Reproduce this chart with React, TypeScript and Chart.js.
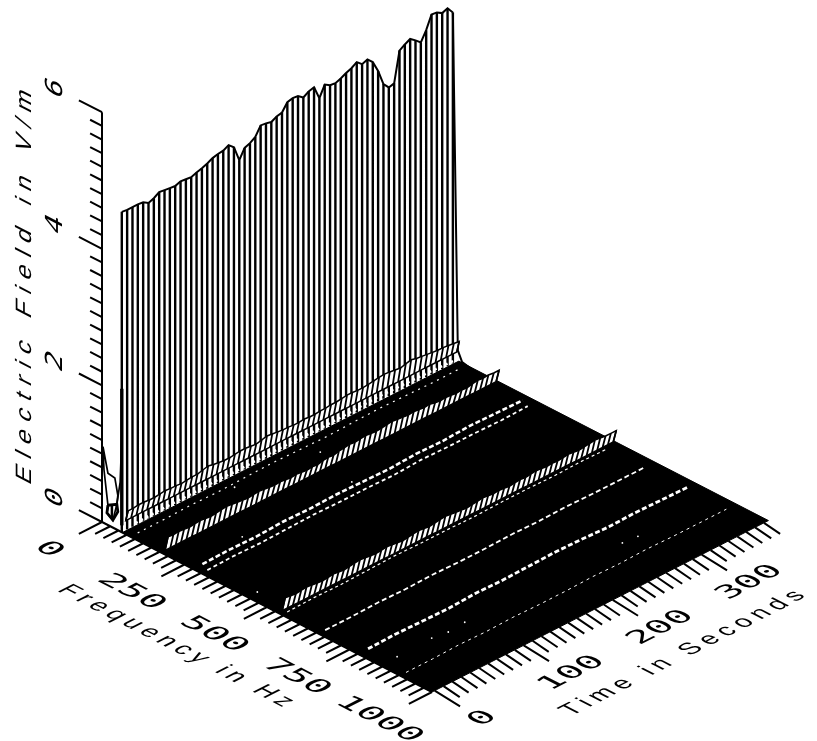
import React, { useEffect, useRef } from "react";
import { Chart, registerables } from "chart.js";

Chart.register(...registerables);

// ---------- data ----------
const freqMajorTicks = [0, 250, 500, 750, 1000];
const timeMajorTicks = [0, 100, 200, 300];
const fieldMajorTicks = [0, 2, 4, 6];
const freqMax = 1000;
const freqFloorStart = 62;
const timeMax = 378;
const fieldMax = 6;
const sliceStep = 6;

const spikeFreq = 60;
const spikeField = [
  4.69, 4.68, 4.68, 4.68, 4.67, 4.62, 4.65, 4.7, 4.69, 4.68, 4.67, 4.7, 4.69, 4.68, 4.71, 4.73,
  4.76, 4.8, 4.82, 4.83, 4.87, 4.8, 4.57, 4.71, 4.74, 4.79, 4.92, 4.91, 4.89, 4.93, 4.95, 5.06,
  5.08, 5.07, 5.01, 5.06, 5.08, 4.88, 5.04, 4.99, 4.98, 5.01, 5.05, 5.08, 5.13, 5.06, 5.09, 5.01,
  4.84, 4.61, 4.52, 4.54, 4.98, 5.03, 5.07, 5.01, 4.94, 5.08, 5.27, 5.26, 5.21, 5.24, 5.14,
];

const bandATop = [
  0.36, 0.36, 0.37, 0.37, 0.36, 0.36, 0.37, 0.38, 0.37, 0.37, 0.36, 0.37, 0.38, 0.38, 0.4, 0.42,
  0.4, 0.39, 0.38, 0.38, 0.39, 0.4, 0.4, 0.39, 0.38, 0.4, 0.42, 0.41, 0.4, 0.39, 0.39, 0.38, 0.38,
  0.39, 0.38, 0.38, 0.39, 0.39, 0.4, 0.4, 0.41, 0.42, 0.42, 0.41, 0.41, 0.42, 0.43, 0.44, 0.45,
  0.44, 0.43, 0.42, 0.44, 0.46, 0.44, 0.43, 0.42, 0.41, 0.4, 0.4, 0.39, 0.38, 0.37,
];
const bandBTop = [
  0.28, 0.27, 0.28, 0.27, 0.26, 0.27, 0.28, 0.27, 0.26, 0.27, 0.28, 0.29, 0.28, 0.27, 0.26, 0.25,
  0.26, 0.27, 0.26, 0.25, 0.24, 0.25, 0.24, 0.23, 0.24, 0.23, 0.22, 0.23, 0.22, 0.24, 0.25, 0.24,
  0.26, 0.27, 0.28, 0.27, 0.28, 0.29, 0.28, 0.27, 0.28, 0.29, 0.3, 0.29, 0.28, 0.27, 0.28, 0.27,
  0.26, 0.27, 0.25, 0.24, 0.25, 0.24, 0.23, 0.24, 0.23, 0.25, 0.26, 0.25, 0.26, 0.25, 0.25,
];
const bandDTop = [
  0.27, 0.26, 0.25, 0.26, 0.27, 0.26, 0.25, 0.24, 0.25, 0.26, 0.25, 0.24, 0.25, 0.26, 0.27, 0.26,
  0.25, 0.24, 0.25, 0.26, 0.25, 0.24, 0.23, 0.24, 0.25, 0.26, 0.25, 0.24, 0.25, 0.26, 0.27, 0.26,
  0.25, 0.24, 0.23, 0.24, 0.25, 0.26, 0.25, 0.24, 0.25, 0.24, 0.23, 0.24, 0.25, 0.24, 0.25, 0.26,
  0.25, 0.24, 0.25, 0.24, 0.25, 0.26, 0.25, 0.24, 0.25, 0.26, 0.27, 0.26, 0.25, 0.25, 0.25,
];
const bandAFreq = [72, 79];
const bandBFreq = [191, 200];
const bandDFreq = [546, 555];
const bandABase = 0.2;
const bandBBase = 0.06;
const bandDBase = 0.06;

const knotTimes = [6, 36, 66, 96, 126, 156, 186, 216, 246, 276, 306, 336, 366];
const rowA2 = [0.15, 0.16, 0.16, 0.17, 0.16, 0.17, 0.17, 0.16, 0.17, 0.19, 0.18, 0.17, 0.15];
const rowA3 = [0.03, 0.03, 0.04, 0.03, 0.04, 0.05, 0.04, 0.03, 0.04, 0.05, 0.04, 0.03, 0.03];
const rowC = [0.06, 0.07, 0.06, 0.08, 0.07, 0.08, 0.07, 0.06, 0.08, 0.07, 0.09, 0.08, 0.07];
const rowC2 = [0.01, 0.02, 0.01, 0.02, 0.03, 0.02, 0.02, 0.01, 0.03, 0.02, 0.02, 0.01, 0.02];
const rowD2 = [0.0, 0.01, 0.0, 0.01, 0.02, 0.01, 0.01, 0.0, 0.01, 0.01, 0.0, 0.01, 0.0];
const rowE = [0.02, 0.02, 0.03, 0.02, 0.03, 0.02, 0.02, 0.03, 0.02, 0.03, 0.02, 0.02, 0.02];
const rowF = [0.07, 0.08, 0.07, 0.06, 0.08, 0.07, 0.08, 0.09, 0.08, 0.06, 0.07, 0.06, 0.05];
const rowG = [0.01, 0.01, 0.02, 0.01, 0.02, 0.01, 0.01, 0.02, 0.01, 0.02, 0.01, 0.01, 0.01];
const rowFreqs = { a2: 84, a3: 92, c: 288, c2: 303, d2: 545, e: 660, f: 790, g: 905 };

const speckFreq = [97, 122, 255, 258, 441, 843, 840, 847, 843, 846, 850];
const speckTime = [113, 200, 63, 185, 11, 19, 59, 75, 95, 271, 287];

const humpFreq = [3, 18, 39, 48, 45, 33, 15, 18, 6, 3];
const humpField = [1.11, 0.76, 0.74, 0.51, 0.37, 0.11, 0.17, 0.29, 0.78, 1.11];
const humpCellFreq = [18, 45, 48, 33, 15, 18];
const humpCellField = [0.29, 0.37, 0.27, 0.11, 0.17, 0.29];
const humpRiseFreq = [45, 55, 60];
const humpRiseField = [0.37, 0.72, 1.4];
const lastSliceFreq = [60, 75, 88, 133];
const lastSliceField = [5.14, 0.23, 0.09, 0.04];

const fieldTitle = "Electric Field in V/m";
const freqTitle = "Frequency in Hz";
const timeTitle = "Time in Seconds";

// ---------- axonometric projection of (frequency, time, field) ----------
const project = (f: number, t: number, z: number) => ({
  x: 102 + 0.33 * f + 0.89 * t,
  y: 522 + 0.17 * f - 0.4535 * t - 68.3 * z,
});
const GAP = { x: NaN, y: NaN };
const slices = spikeField.map((_, i) => i * sliceStep);

type P = { x: number; y: number };
const mk = (data: P[], color: string, width: number, extra: Record<string, unknown> = {}) => ({
  data,
  borderColor: color,
  borderWidth: width,
  pointRadius: 0,
  showLine: true,
  tension: 0,
  fill: false,
  spanGaps: false,
  clip: false,
  ...extra,
});

const segments = (pairs: [P, P][]) => pairs.flatMap(([a, b]) => [a, b, GAP]);

function band(top: number[], [fb, ft]: number[], base: number) {
  const upper = top.map((z, i) => project(ft, slices[i], z));
  const lower = top.map((_, i) => project(fb, slices[i], base));
  return [
    mk([...upper, ...lower.slice().reverse(), upper[0]], "#000", 1.5, {
      fill: "shape",
      backgroundColor: "#fff",
    }),
    mk(segments(top.map((_, i) => [lower[i], upper[i]] as [P, P])), "#000", 1.8),
  ];
}
const row = (f: number, z: number[], color: string, width: number, dash: number[]) =>
  mk(z.map((v, i) => project(f, knotTimes[i], v)), color, width, { borderDash: dash });

function range(from: number, to: number, step: number) {
  const out: number[] = [];
  for (let v = from; v <= to + 1e-6; v += step) out.push(+v.toFixed(3));
  return out;
}

function buildDatasets() {
  const surface = mk(
    [
      project(freqFloorStart, 0, 0),
      project(freqMax, 0, 0),
      project(freqMax, timeMax, 0),
      project(freqFloorStart, timeMax, 0),
      project(freqFloorStart, 0, 0),
    ],
    "#000",
    1,
    { fill: "shape", backgroundColor: "#000" }
  );
  const spikes = mk(
    segments(
      spikeField.map((z, i) => [project(spikeFreq, slices[i], 0), project(spikeFreq, slices[i], z)] as [P, P])
    ),
    "#000",
    2.4,
    { borderCapStyle: "butt" }
  );
  const ridge = mk(spikeField.map((z, i) => project(spikeFreq, slices[i], z)), "#000", 2);
  const thickFirst = mk([project(spikeFreq, 0, 0.1), project(spikeFreq, 0, 2.1)], "#000", 3.4);
  const hump = mk(humpFreq.map((f, i) => project(f, 0, humpField[i])), "#000", 1.7);
  const humpCell = mk(humpCellFreq.map((f, i) => project(f, 0, humpCellField[i])), "#000", 2.8);
  const humpCross = mk(segments([[project(30, 0, 0.32), project(30, 0, 0.12)]]), "#000", 2.5);
  const humpRise = mk(humpRiseFreq.map((f, i) => project(f, 0, humpRiseField[i])), "#000", 1.7);
  const lastSlice = mk(lastSliceFreq.map((f, i) => project(f, 372, lastSliceField[i])), "#000", 2);
  const specks = {
    data: speckFreq.map((f, i) => project(f, speckTime[i], 0)),
    pointRadius: 0.9,
    pointBorderWidth: 0,
    pointBackgroundColor: "#fff",
    showLine: false,
    clip: false,
  };

  const zMinor = range(0, fieldMax, 0.2);
  const fMinor = range(0, freqMax, 25);
  const tMinor = range(0, 370, 10);
  const tickWidth = 2;
  const zAxis = mk(
    [
      project(0, 0, 0),
      project(0, 0, fieldMax),
      GAP,
      ...segments(
        zMinor.map((z) => [project(0, 0, z), project(fieldMajorTicks.includes(z) ? -70 : -36, 0, z)] as [P, P])
      ),
    ],
    "#000",
    tickWidth
  );
  const fAxis = mk(
    [
      project(0, 0, 0),
      project(freqMax, 0, 0),
      GAP,
      ...segments(
        fMinor.map((f) => [project(f, 0, 0), project(f, freqMajorTicks.includes(f) ? -26 : -17, 0)] as [P, P])
      ),
    ],
    "#000",
    tickWidth
  );
  const tAxis = mk(
    segments(
      tMinor.map((t) => [project(1000, t + 3, 0), project(timeMajorTicks.includes(t) ? 1085 : 1057, t, 0)] as [P, P])
    ),
    "#000",
    tickWidth
  );

  const list = [
    surface,
    hump,
    humpCell,
    humpCross,
    humpRise,
    spikes,
    thickFirst,
    ridge,
    lastSlice,
    ...band(bandATop, bandAFreq, bandABase),
    row(rowFreqs.a2, rowA2, "#fff", 2.6, [3, 3]),
    row(rowFreqs.a3, rowA3, "#fff", 1.2, [2, 5]),
    ...band(bandBTop, bandBFreq, bandBBase),
    row(rowFreqs.c, rowC, "#fff", 2.6, [5, 2.5]),
    row(rowFreqs.c2, rowC2, "#fff", 1.8, [4, 3]),
    ...band(bandDTop, bandDFreq, bandDBase),
    row(rowFreqs.d2, rowD2, "#fff", 1.2, [3, 3]),
    row(rowFreqs.e, rowE, "#fff", 1.8, [5, 3]),
    row(rowFreqs.f, rowF, "#fff", 2.8, [5, 2.5]),
    row(rowFreqs.g, rowG, "#fff", 1, [3, 4]),
    specks,
    zAxis,
    fAxis,
    tAxis,
  ];
  // later entries are painted on top
  return list.map((d, i) => ({ ...d, order: list.length - i }));
}

// ---------- sheared labels lying in the plot's planes ----------
const FD = { x: 0.889, y: 0.458 };
const TD = { x: 0.89, y: -0.4535 };
const UP = { x: 0, y: -1 };

function drawText(
  ctx: CanvasRenderingContext2D,
  text: string,
  c: P,
  along: P,
  down: P,
  font: string,
  stretch: number,
  downScale: number,
  length?: number
) {
  ctx.save();
  ctx.font = font;
  ctx.fillStyle = "#000";
  ctx.textAlign = "center";
  ctx.textBaseline = "middle";
  if (length) {
    const w = ctx.measureText(text).width;
    (ctx as any).letterSpacing = `${(length - w) / text.length}px`;
  }
  ctx.transform(along.x * stretch, along.y * stretch, down.x * downScale, down.y * downScale, c.x, c.y);
  ctx.fillText(text, 0, 0);
  ctx.restore();
}

const labelPlugin = {
  id: "planeLabels",
  afterDatasetsDraw(chart: Chart) {
    const ctx = chart.ctx;
    const tick = '22px "DejaVu Sans Mono"';
    const title = '25px "Liberation Sans"';
    const minusT = { x: -TD.x, y: -TD.y };
    fieldMajorTicks.forEach((z) =>
      drawText(ctx, String(z), project(-140, 0, z), UP, FD, tick, 1.3, 1.2)
    );
    freqMajorTicks.forEach((f) =>
      drawText(ctx, String(f), project(f, -60, 0), FD, minusT, tick, 1.65, 1.25)
    );
    timeMajorTicks.forEach((t) =>
      drawText(ctx, String(t), project(1155, t, 0), TD, FD, tick, 1.6, 1.25)
    );
    drawText(ctx, fieldTitle, project(-233, 0, 2.93), UP, FD, title, 1, 1, 401);
    drawText(ctx, freqTitle, project(484, -94, 0), FD, minusT, title, 1, 1, 260);
    drawText(ctx, timeTitle, project(1263, 187, 0), TD, FD, title, 1, 1, 270);
  },
};

export default function App() {
  const ref = useRef<HTMLCanvasElement>(null);
  useEffect(() => {
    document.body.style.margin = "0";
    document.body.style.background = "#fff";
    const chart = new Chart(ref.current!, {
      type: "scatter",
      data: { datasets: buildDatasets() as any },
      options: {
        animation: false,
        responsive: false,
        events: [],
        layout: { padding: 0, autoPadding: false },
        plugins: { legend: { display: false }, tooltip: { enabled: false }, title: { display: false } },
        scales: {
          x: { type: "linear", min: 0, max: 817, display: false },
          y: { type: "linear", min: 0, max: 741, reverse: true, display: false },
        },
      },
      plugins: [labelPlugin as any],
    });
    return () => chart.destroy();
  }, []);
  return <canvas ref={ref} width={817} height={741} style={{ display: "block" }} />;
}
